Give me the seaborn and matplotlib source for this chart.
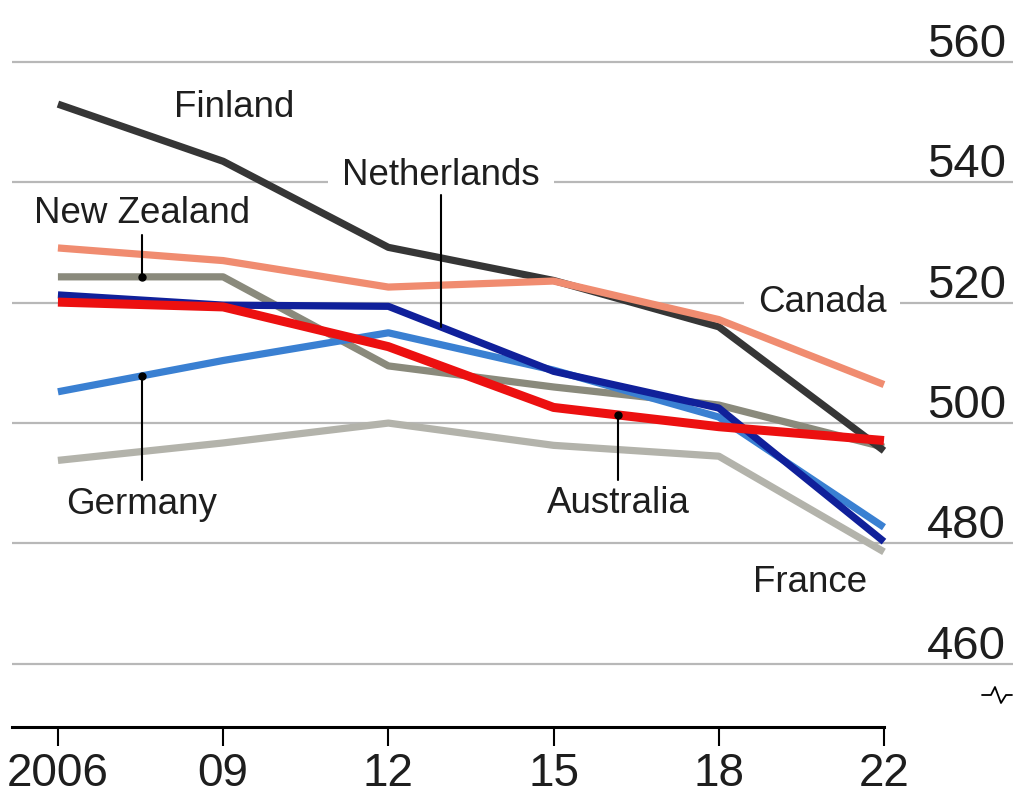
import numpy as np
import pandas as pd
import matplotlib
matplotlib.use('Agg')
import matplotlib.pyplot as plt
import matplotlib.transforms as mtrans
from matplotlib import font_manager
import seaborn as sns

# data
years = ['2006', '09', '12', '15', '18', '22']
finland = [553.0, 543.5, 529.2, 523.7, 516.0, 495.4]
canada = [529.1, 527.0, 522.6, 523.6, 517.2, 506.4]
new_zealand = [524.3, 524.3, 509.5, 506.0, 503.0, 496.0]
netherlands = [521.3, 519.6, 519.4, 508.6, 502.5, 480.3]
australia = [520.1, 519.3, 512.7, 502.6, 499.4, 497.1]
germany = [505.2, 510.4, 515.0, 508.8, 501.0, 482.7]
france = [493.8, 496.7, 500.0, 496.3, 494.5, 478.6]
yticks = [460, 480, 500, 520, 540, 560]

series = {'France': france, 'New Zealand': new_zealand, 'Finland': finland,
          'Canada': canada, 'Germany': germany, 'Netherlands': netherlands,
          'Australia': australia}
colours = {'France': '#b3b3ab', 'New Zealand': '#8a8a7c', 'Finland': '#363636',
           'Canada': '#f08c70', 'Germany': '#3a80d2', 'Netherlands': '#10209a',
           'Australia': '#ec1010'}
widths = {'Australia': 6.5}

pos = np.arange(len(years))
df = pd.DataFrame({'pos': np.tile(pos, len(series)),
                   'score': np.concatenate([series[c] for c in series]),
                   'country': np.repeat(list(series), len(years))})

sns.set_style('white')
names = {f.name for f in font_manager.fontManager.ttflist}
fam = 'Liberation Sans Narrow' if 'Liberation Sans Narrow' in names else 'Liberation Sans'
plt.rcParams['font.family'] = [fam, 'DejaVu Sans']
ink = '#1e1e1e'

fig = plt.figure(figsize=(10.13, 7.95), dpi=100)
ax = fig.add_axes([12 / 1013, 68 / 795, 1001 / 1013, 727 / 795])

xmin, xmax = -0.278, 5.781
ax.set_xlim(xmin, xmax)
ax.set_ylim(449.5, 570.3)

for v in yticks:
    ax.axhline(v, color='#b8b8b8', lw=1.6, zorder=0.5)
    ax.text(0.993, v + 0.85, str(v), transform=mtrans.blended_transform_factory(ax.transAxes, ax.transData),
            ha='right', va='baseline', fontsize=34, color=ink)

for c in series:
    sns.lineplot(data=df[df.country == c], x='pos', y='score', color=colours[c],
                 lw=widths.get(c, 5.2), ax=ax, legend=False, zorder=3,
                 solid_capstyle='butt', solid_joinstyle='round')

# labels: (x position, y value, leader end / None, dot)
labels = {
    'Finland': (1.065, 552.4, None, False),
    'Netherlands': (2.318, 541.1, 537.9, False),
    'New Zealand': (0.508, 534.9, 531.3, True),
    'Canada': (4.625, 520.0, None, False),
    'Germany': (0.508, 486.4, 490.6, True),
    'Australia': (3.39, 486.6, 490.6, True),
    'France': (4.552, 473.5, None, False),
}
for c, (x, y, lead, dot) in labels.items():
    box = dict(facecolor='white', edgecolor='none', pad=10) if c in ('Canada', 'Netherlands') else None
    ax.text(x, y, c, ha='center', va='center', fontsize=26.5, color=ink, bbox=box, zorder=1)
    if lead is not None:
        yl = np.interp(x, pos, series[c])
        ax.plot([x, x], [lead, yl], color='black', lw=1.5, zorder=4)
        if dot:
            ax.plot([x], [yl], 'o', color='black', ms=5, zorder=5)

ax.set_xticks(pos)
ax.set_xticklabels(years, fontsize=33, color=ink)
ax.set_yticks([])
ax.set_ylabel('')
ax.set_xlabel('')
ax.tick_params(axis='x', bottom=True, direction='out', length=14, width=1.5, color='black', pad=4)
for s in ['top', 'left', 'right']:
    ax.spines[s].set_visible(False)
ax.spines['bottom'].set_linewidth(2.2)
ax.spines['bottom'].set_color('black')
ax.spines['bottom'].set_bounds(xmin, pos[-1])

# axis break sign
zx = np.array([982, 991, 995, 1001, 1006, 1012]) / 1013
zy = 1 - np.array([695, 695, 687, 703, 695, 695]) / 795
fig.add_artist(plt.Line2D(zx, zy, color='black', lw=1.3, transform=fig.transFigure))

fig.savefig('out.png', dpi=100, facecolor='white')
